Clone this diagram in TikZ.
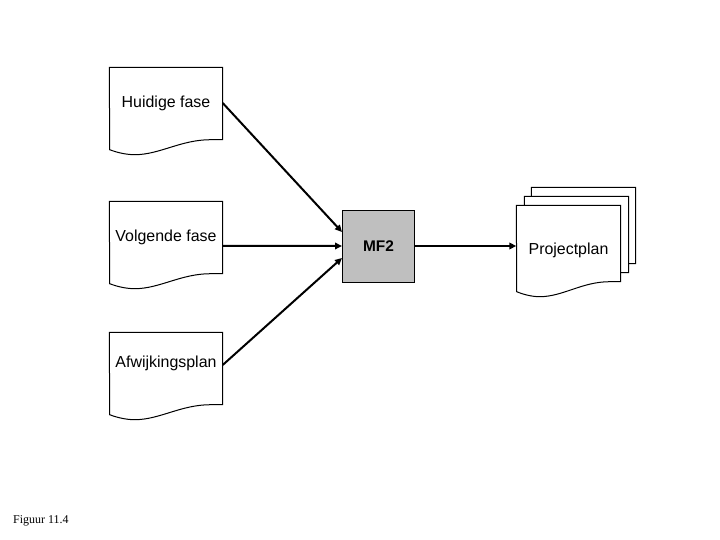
\documentclass[tikz,border=0pt]{standalone}
\usepackage{fontspec}
\setmainfont{Liberation Sans}
\newfontfamily\figfont{Liberation Serif}
\usetikzlibrary{arrows.meta,backgrounds}
\newcommand{\docfont}{\fontsize{16}{19}\selectfont}
% outline of a document round node #1, #2 scales the width
\newcommand{\docrand}[2]{%
  \draw[rand,x=#2bp] (#1.north west) -- (#1.north east) -- (#1.south east) -- ++(-12,0)
    .. controls +(-30,0) and +(25,0) .. ++(-76,15)
    .. controls +(-10,0) and +(5,2) .. ++(-25,-5) -- cycle;}

\begin{document}
\begin{tikzpicture}[x=1bp,y=-1bp,
  docu/.style={minimum width=113bp,minimum height=72bp,inner sep=0pt,font=\docfont},
  plan/.style={docu,minimum width=104bp,minimum height=76bp},
  rand/.style={draw,line width=1bp,fill=white},
  blok/.style={draw,line width=1bp,fill=black!25,minimum size=72bp,inner sep=0pt,
    font=\fontsize{15.5}{18}\selectfont\bfseries},
  pijl/.style={line width=2bp,-{Triangle[length=7bp,width=6.5bp]}}]
\useasboundingbox (0,0) rectangle (720,540);

\node[docu] (huidige) at (166,103.5) {Huidige fase};
\node[docu] (volgende) at (166,237.5) {Volgende fase};
\node[docu,label={[font=\docfont,yshift=5bp]center:Afwijkingsplan}] (afwijking) at (166,368.5) {};

\node[blok] (mf2) at (378.5,246.5) {MF2};

\node[plan] (plan3) at (583.5,225.5) {};
\node[plan] (plan2) at (576.5,234.5) {};
\node[plan,label={[font=\docfont,yshift=-7bp]center:Projectplan}] (projectplan) at (568.5,243.5) {};

\node[anchor=west,inner sep=0pt,font=\figfont\fontsize{12}{14}\selectfont] (figuur) at (13,521) {Figuur 11.4};

\begin{scope}[on background layer]
\docrand{huidige}{1}
\docrand{volgende}{1}
\docrand{afwijking}{1}
\docrand{plan3}{0.92}
\docrand{plan2}{0.92}
\docrand{projectplan}{0.92}
\end{scope}

\draw[pijl] ([yshift=0.5bp]huidige.east) -- ([yshift=14.5bp]mf2.west);
\draw[pijl] ([yshift=-8.5bp]volgende.east) -- ([yshift=0.5bp]mf2.west);
\draw[pijl] ([yshift=3.5bp]afwijking.east) -- ([yshift=-11.5bp]mf2.west);
\draw[pijl] ([yshift=0.5bp]mf2.east) -- ([yshift=0.5bp]mf2.east -| projectplan.west);
\end{tikzpicture}
\end{document}
